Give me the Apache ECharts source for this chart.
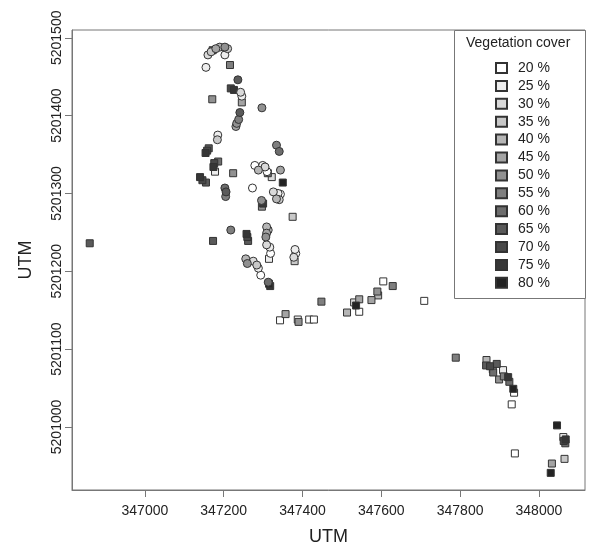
<!DOCTYPE html>
<html>
<head>
<meta charset="utf-8">
<script src="https://cdn.jsdelivr.net/npm/echarts@6/dist/echarts.min.js"></script>
<style>html,body{margin:0;padding:0;background:#fff;}#chart{width:600px;height:557px;}</style>
</head>
<body>
<div id="chart"></div>
<script>
// Cover categories (legend)
const coverLevels = [20, 25, 30, 35, 40, 45, 50, 55, 60, 65, 70, 75, 80];
const xTicks = [347000, 347200, 347400, 347600, 347800, 348000];
const yTicks = [5201000, 5201100, 5201200, 5201300, 5201400, 5201500];

// Square-marker observations
const squareX = [346860, 347172, 347216, 347171, 347218, 347226, 347246, 347154, 347158, 347162,
  347176, 347186, 347174, 347178, 347224, 347140, 347146, 347155, 347350, 347300,
  347297, 347375, 347173, 347258, 347260, 347262, 347315, 347380, 347315, 347318,
  347343, 347357, 347390, 347388, 347417, 347429, 347448, 347513, 347531, 347544,
  347536, 347544, 347575, 347590, 347592, 347605, 347629, 347709, 347789, 347867,
  347866, 347876, 347883, 347884, 347893, 347899, 347909, 347911, 347922, 347925,
  347935, 347937, 347931, 347939, 348046, 348062, 348068, 348067, 348063, 348033,
  348065, 348030, 347312, 347322];
const squareY = [5201236, 5201484, 5201465, 5201421, 5201435, 5201433, 5201417, 5201352, 5201355, 5201358,
  5201339, 5201341, 5201334, 5201328, 5201326, 5201321, 5201317, 5201314, 5201314, 5201287,
  5201283, 5201270, 5201239, 5201248, 5201244, 5201239, 5201216, 5201213, 5201184, 5201181,
  5201137, 5201145, 5201135, 5201138, 5201138, 5201138, 5201161, 5201147, 5201160, 5201164,
  5201156, 5201148, 5201163, 5201174, 5201169, 5201187, 5201181, 5201162, 5201089, 5201086,
  5201079, 5201078, 5201074, 5201070, 5201081, 5201061, 5201073, 5201065, 5201064, 5201058,
  5201049, 5201044, 5201029, 5200966, 5201002, 5200987, 5200984, 5200979, 5200982, 5200953,
  5200959, 5200941, 5201326, 5201321];
const squareCover = [65, 70, 55, 50, 70, 75, 45, 75, 70, 65,
  70, 60, 75, 25, 50, 75, 70, 65, 80, 75,
  50, 35, 65, 75, 70, 65, 25, 35, 80, 75,
  20, 45, 50, 20, 20, 20, 55, 40, 30, 45,
  80, 20, 45, 50, 40, 20, 55, 20, 55, 40,
  65, 70, 45, 60, 65, 50, 25, 55, 75, 60,
  80, 20, 20, 20, 80, 25, 75, 60, 70, 45,
  35, 80, 60, 30];

// Circle-marker observations
const circleX = [347155, 347160, 347168, 347180, 347190, 347203, 347210, 347203, 347236, 347243,
  347246, 347297, 347241, 347238, 347233, 347231, 347185, 347184, 347334, 347341,
  347279, 347299, 347288, 347305, 347310, 347344, 347273, 347326, 347338, 347344,
  347341, 347334, 347296, 347203, 347206, 347205, 347309, 347313, 347309, 347307,
  347218, 347309, 347317, 347319, 347256, 347260, 347275, 347284, 347288, 347294,
  347381, 347383, 347378, 347313];
const circleY = [5201462, 5201478, 5201482, 5201486, 5201488, 5201488, 5201486, 5201478, 5201446, 5201430,
  5201425, 5201410, 5201404, 5201395, 5201390, 5201386, 5201375, 5201369, 5201362, 5201354,
  5201336, 5201336, 5201330, 5201334, 5201328, 5201330, 5201307, 5201302, 5201300, 5201299,
  5201292, 5201293, 5201291, 5201307, 5201302, 5201296, 5201257, 5201253, 5201249, 5201244,
  5201253, 5201234, 5201231, 5201223, 5201216, 5201210, 5201213, 5201208, 5201204, 5201195,
  5201228, 5201223, 5201218, 5201186];
const circleCover = [25, 30, 35, 45, 40, 50, 35, 25, 65, 30,
  25, 50, 65, 55, 50, 45, 25, 35, 55, 60,
  20, 25, 40, 30, 20, 45, 20, 30, 25, 20,
  35, 40, 50, 60, 65, 55, 40, 35, 45, 50,
  55, 30, 25, 20, 40, 50, 30, 35, 25, 20,
  25, 20, 30, 60];

function levelName(c) { return c + ' %'; }
function grey(c) {
  const v = Math.round(255 - (c - 20) / 5 * 18.3);
  return 'rgb(' + v + ',' + v + ',' + v + ')';
}

const series = [];
coverLevels.forEach(function (c) {
  const sq = [];
  squareX.forEach(function (x, i) { if (squareCover[i] === c) sq.push([x, squareY[i]]); });
  series.push({
    name: levelName(c), type: 'scatter', symbol: 'rect', symbolSize: 7,
    itemStyle: { color: grey(c), borderColor: '#333', borderWidth: 1, opacity: 1 },
    data: sq, animation: false
  });
});
coverLevels.forEach(function (c) {
  const ci = [];
  circleX.forEach(function (x, i) { if (circleCover[i] === c) ci.push([x, circleY[i]]); });
  series.push({
    name: levelName(c), type: 'scatter', symbol: 'circle', symbolSize: 8,
    itemStyle: { color: grey(c), borderColor: '#333', borderWidth: 1, opacity: 1 },
    data: ci, animation: false
  });
});

const axisColor = '#777';
const txt = '#222';
const font = 'Liberation Sans, Arial, sans-serif';
function plain(v) { return String(Math.round(v)); }

const chart = echarts.init(document.getElementById('chart'), null, { renderer: 'canvas' });
chart.setOption({
  animation: false,
  backgroundColor: '#fff',
  textStyle: { fontFamily: font },
  grid: { left: 72, top: 30, right: 15, bottom: 67, show: true, borderColor: axisColor, borderWidth: 1, containLabel: false },
  xAxis: {
    type: 'value', min: 346815, max: 348117,
    name: 'UTM', nameLocation: 'middle', nameGap: 38,
    nameTextStyle: { fontSize: 18, color: txt, fontFamily: font },
    axisLine: { show: true, lineStyle: { color: axisColor } },
    axisTick: { show: true, length: 7, lineStyle: { color: axisColor }, customValues: xTicks },
    axisLabel: { fontSize: 14, color: txt, margin: 14, fontFamily: font, customValues: xTicks, formatter: plain },
    splitLine: { show: false }
  },
  yAxis: {
    type: 'value', min: 5200919, max: 5201510,
    name: 'UTM', nameLocation: 'middle', nameGap: 37, nameRotate: 90,
    nameTextStyle: { fontSize: 18, color: txt, fontFamily: font },
    axisLine: { show: true, lineStyle: { color: axisColor } },
    axisTick: { show: true, length: 7, lineStyle: { color: axisColor }, customValues: yTicks },
    axisLabel: { fontSize: 14, color: txt, margin: 8, rotate: 90, fontFamily: font, customValues: yTicks, formatter: plain },
    splitLine: { show: false }
  },
  legend: {
    orient: 'vertical', left: 495, top: 61, padding: 0,
    itemWidth: 11, itemHeight: 10, itemGap: 3.9,
    icon: 'rect',
    textStyle: { fontSize: 14, lineHeight: 14, color: txt, fontFamily: font, padding: [0, 0, 0, 6] },
    data: coverLevels.map(function (c) { return { name: levelName(c), icon: 'rect' }; }),
    selectedMode: false
  },
  graphic: [
    { type: 'rect', left: 454, top: 30, shape: { width: 131, height: 268 }, style: { fill: '#fff', stroke: axisColor, lineWidth: 1 }, z: 1 },
    { type: 'text', left: 466, top: 36, style: { text: 'Vegetation cover', fill: txt, font: '14px ' + font }, z: 2 }
  ],
  series: series
});
</script>
</body>
</html>
